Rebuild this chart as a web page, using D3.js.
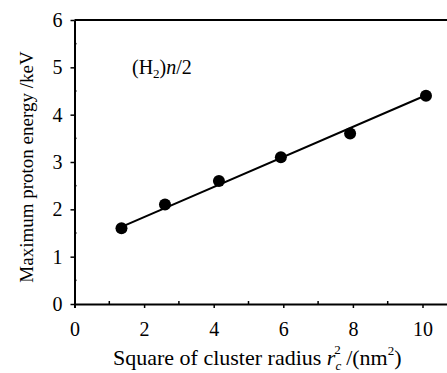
<!DOCTYPE html>
<html>
<head>
<meta charset="utf-8">
<script src="https://cdn.jsdelivr.net/npm/d3@7"></script>
<style>
  body { margin: 0; background: #fff; }
  text { font-family: "Liberation Serif", "DejaVu Serif", "Times New Roman", serif; fill: #000; }
</style>
</head>
<body>
<svg id="chart" width="447" height="373"></svg>
<script>
// data
let radiusSq = [1.35, 2.6, 4.15, 5.93, 7.92, 10.1];
let protonEnergy = [1.6, 2.1, 2.6, 3.1, 3.6, 4.4];
let fitX = [1.35, 10.1];
let fitY = [1.63, 4.41];
let xTicks = [0, 2, 4, 6, 8, 10];
let yTicks = [0, 1, 2, 3, 4, 5, 6];

let svg = d3.select("#chart");
let plotLeft = 74.5, plotTop = 20, plotBottom = 304;
let serif = "'Liberation Serif', 'DejaVu Serif', serif";

let xScale = d3.scaleLinear().domain([0, 10.8]).range([plotLeft, plotLeft + 10.8 * 34.8]);
let yScale = d3.scaleLinear().domain([0, 6]).range([plotBottom, plotTop]);

// top frame line
svg.append("line")
  .attr("x1", plotLeft).attr("x2", 447)
  .attr("y1", plotTop).attr("y2", plotTop)
  .attr("stroke", "#000").attr("stroke-width", 2);

// x axis
let xAxis = svg.append("g").attr("transform", `translate(0,${plotBottom})`)
  .call(d3.axisBottom(xScale).tickValues(xTicks).tickSize(4).tickPadding(14).tickFormat(d3.format("d")))
  .attr("font-family", serif).attr("font-size", 20);
xAxis.select(".domain").attr("stroke-width", 2);
xAxis.selectAll(".tick line").attr("stroke-width", 1.5);
xAxis.selectAll(".minor").data([1, 3, 5, 7, 9]).enter().append("line")
  .attr("class", "minor")
  .attr("x1", d => xScale(d)).attr("x2", d => xScale(d))
  .attr("y1", 0).attr("y2", -3)
  .attr("stroke", "#000").attr("stroke-width", 1.5);

// y axis
let yAxis = svg.append("g").attr("transform", `translate(${plotLeft},0)`)
  .call(d3.axisLeft(yScale).tickValues(yTicks).tickSize(4).tickPadding(8).tickSizeOuter(0).tickFormat(d3.format("d")))
  .attr("font-family", serif).attr("font-size", 20);
yAxis.select(".domain").attr("stroke-width", 2);
yAxis.selectAll(".tick line").attr("stroke-width", 1.5);
yAxis.selectAll(".minor").data([0.5, 1.5, 2.5, 3.5, 4.5, 5.5]).enter().append("line")
  .attr("class", "minor")
  .attr("x1", 0).attr("x2", 2)
  .attr("y1", d => yScale(d)).attr("y2", d => yScale(d))
  .attr("stroke", "#000").attr("stroke-width", 1.5);

// fit line
let fit = fitX.map((x, i) => [x, fitY[i]]);
svg.append("path")
  .datum(fit)
  .attr("d", d3.line().x(d => xScale(d[0])).y(d => yScale(d[1])))
  .attr("fill", "none").attr("stroke", "#000").attr("stroke-width", 2);

// points
svg.selectAll(".point")
  .data(radiusSq.map((x, i) => ({ x: x, y: protonEnergy[i] })))
  .enter().append("circle")
  .attr("class", "point")
  .attr("cx", d => xScale(d.x))
  .attr("cy", d => yScale(d.y))
  .attr("r", 6)
  .style("fill", "#000");

// annotation
let note = svg.append("text").attr("x", 132).attr("y", 74).style("font-size", "20px");
note.append("tspan").text("(H");
note.append("tspan").text("2").attr("dy", 4).style("font-size", "13px");
note.append("tspan").text(")").attr("dy", -4);
note.append("tspan").text("n").style("font-style", "italic");
note.append("tspan").text("/2");

// axis titles
svg.append("text")
  .attr("transform", `translate(33,167) rotate(-90)`)
  .attr("text-anchor", "middle")
  .style("font-size", "19px")
  .text("Maximum proton energy /keV");

let xt = svg.append("text").attr("x", 113).attr("y", 365).style("font-size", "22px");
xt.append("tspan").text("Square of cluster radius ");
xt.append("tspan").text("r").style("font-style", "italic");
xt.append("tspan").text("c").attr("dy", 5).style("font-size", "13px").style("font-style", "italic");
xt.append("tspan").text("2").attr("dx", -7).attr("dy", -16).style("font-size", "13px");
xt.append("tspan").text("  /(nm").attr("dy", 11);
xt.append("tspan").text("2").attr("dy", -10).style("font-size", "13px");
xt.append("tspan").text(")").attr("dy", 10);
</script>
</body>
</html>
